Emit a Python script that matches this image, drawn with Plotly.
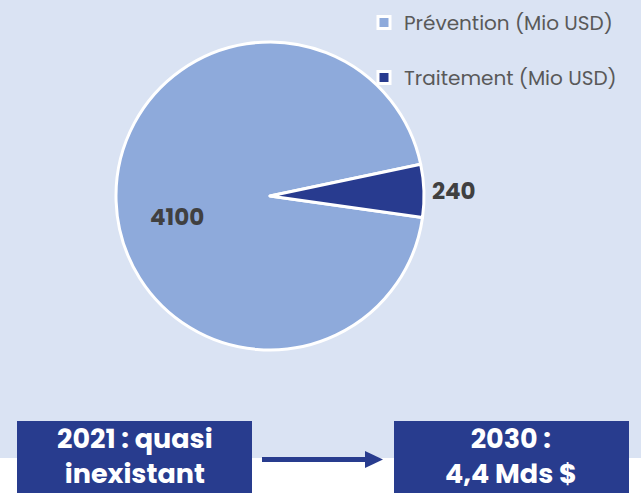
import plotly.graph_objects as go

W, H = 641, 493

# Data
labels = ["Prévention (Mio USD)", "Traitement (Mio USD)"]
values = [4100, 240]
colors = ["#8eaadb", "#283b8f"]
box_texts = ["2021 : quasi<br>inexistant", "2030 :<br>4,4 Mds $"]

BG = "#dae3f3"
BOX = "#283c8e"
FONT = "Poppins, Inter, sans-serif"
LBL = "#404040"


def px(x):
    return x / W


def py(y):
    return 1 - y / H


fig = go.Figure()
fig.add_trace(go.Pie(
    labels=[l + "<br> " for l in labels],
    values=values,
    sort=False,
    direction="clockwise",
    rotation=98,
    marker=dict(colors=colors, line=dict(color="white", width=3)),
    texttemplate=["", "%{value}"],
    textposition=["inside", "outside"],
    insidetextorientation="horizontal",
    outsidetextfont=dict(family=FONT, size=23, color=LBL, weight="bold"),
    insidetextfont=dict(family=FONT, size=23, color=LBL, weight="bold"),
    domain=dict(x=[px(60), px(480)], y=[py(350), py(42)]),
    hoverinfo="label+value",
    showlegend=True,
))

shapes = [
    dict(type="rect", xref="paper", yref="paper", x0=0, x1=1, y0=py(458), y1=1,
         fillcolor=BG, line=dict(width=0), layer="below"),
    dict(type="rect", xref="paper", yref="paper", x0=px(17), x1=px(252), y0=py(493), y1=py(421),
         fillcolor=BOX, line=dict(width=0)),
    dict(type="rect", xref="paper", yref="paper", x0=px(394), x1=px(629), y0=py(493), y1=py(421),
         fillcolor=BOX, line=dict(width=0)),
    dict(type="line", xref="paper", yref="paper", x0=px(262), x1=px(367), y0=py(459.5), y1=py(459.5),
         line=dict(color=BOX, width=5)),
    dict(type="path", xref="paper", yref="paper",
         path=f"M {px(365)} {py(451)} L {px(383)} {py(459.5)} L {px(365)} {py(468)} Z",
         fillcolor=BOX, line=dict(width=0)),
]

annotations = [
    # value label of the large slice
    dict(xref="paper", yref="paper", x=px(177), y=py(217), text=str(values[0]), showarrow=False,
         font=dict(family=FONT, size=23, color=LBL, weight="bold"), xanchor="center", yanchor="middle"),
    dict(xref="paper", yref="paper", x=px(134.5), y=py(455.5), text=box_texts[0], showarrow=False,
         font=dict(family=FONT, size=27, color="white", weight="bold"), xanchor="center", yanchor="middle"),
    dict(xref="paper", yref="paper", x=px(511), y=py(455.5), text=box_texts[1], showarrow=False,
         font=dict(family=FONT, size=27, color="white", weight="bold"), xanchor="center", yanchor="middle"),
]

fig.update_layout(
    width=W, height=H,
    margin=dict(l=0, r=0, t=0, b=0),
    paper_bgcolor="white",
    plot_bgcolor=BG,
    shapes=shapes,
    annotations=annotations,
    legend=dict(x=px(364), y=py(3), xanchor="left", yanchor="top", valign="top",
                font=dict(family=FONT, size=20, color="#595959"),
                bgcolor="rgba(0,0,0,0)"),
)

fig.write_html("out.html", config={"displayModeBar": False},
               post_script="document.body.style.margin='0';")
